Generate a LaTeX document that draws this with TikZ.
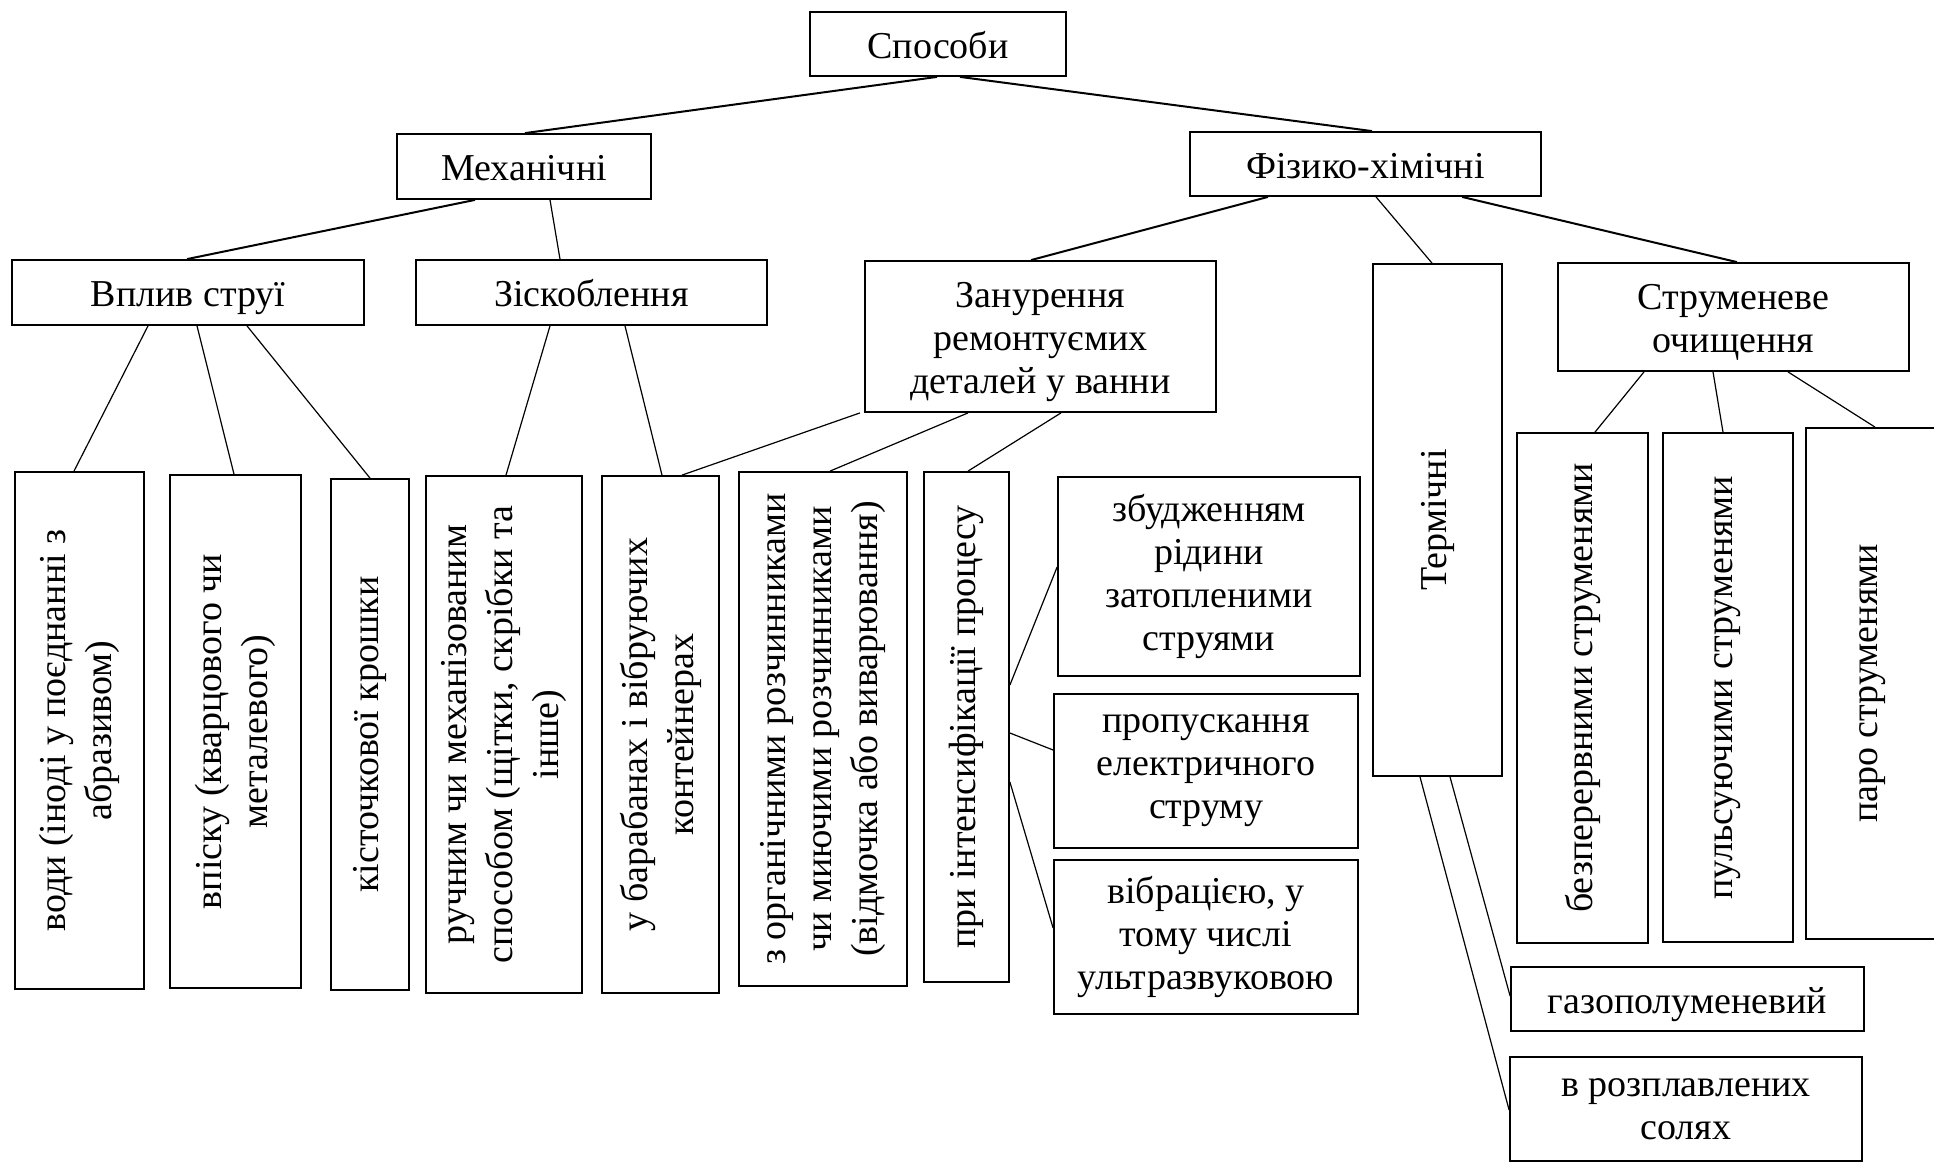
\documentclass[tikz,border=0pt]{standalone}
\usepackage{fontspec}
\setmainfont{Liberation Serif}
\begin{document}
\begin{tikzpicture}[x=0.5pt,y=-0.5pt,
  box/.style={draw, line width=0.9pt, inner sep=0pt, align=center, font=\fontsize{19}{21.5}\selectfont},
  onel/.style={text height=15pt, text depth=1pt},
  htext/.style={align=center, inner sep=0pt, font=\fontsize{19}{21.5}\selectfont},
  vtext/.style={rotate=90, align=center, inner sep=0pt, font=\fontsize{19}{23}\selectfont},
  conn/.style={line width=0.6pt},
  connb/.style={line width=1pt}]
\useasboundingbox (0,0) rectangle (1934,1163);
% level 0-1
\node[box, onel, minimum width=128pt, minimum height=32pt] (sposoby) at (938,44) {Способи};
\node[box, onel, minimum width=127pt, minimum height=32.5pt] (mech) at (524,166.5) {Механічні};
\node[box, onel, minimum width=175.5pt, minimum height=32pt] (fiz) at (1365.5,164) {Фізико-хімічні};
% level 2
\node[box, onel, minimum width=176pt, minimum height=32.5pt] (vplyv) at (188,292.5) {Вплив струї};
\node[box, onel, minimum width=175.5pt, minimum height=32.5pt] (zisk) at (591.5,292.5) {Зіскоблення};
\node[box, minimum width=175.5pt, minimum height=75.5pt] (zanur) at (1040.5,336.5) {};
\node[htext] (zanur-t) at ([yshift=-3pt]zanur.center) {Занурення\\ремонтуємих\\деталей у ванни};
\node[box, minimum width=64.5pt, minimum height=256pt] (term) at (1437.5,520) {};
\node[vtext] (term-t) at (term.center) {Термічні};
\node[box, minimum width=175.5pt, minimum height=54pt] (strum) at (1733.5,317) {};
\node[htext] (strum-t) at ([yshift=-2.5pt]strum.center) {Струменеве\\очищення};
% level 3 vertical boxes
\node[box, minimum width=64.5pt, minimum height=258.5pt] (vody) at (79.5,730.5) {};
\node[vtext] (vody-t) at (vody.center) {води (іноді у поєднанні з\\абразивом)};
\node[box, minimum width=65.5pt, minimum height=256.5pt] (vpisk) at (235.5,731.5) {};
\node[vtext] (vpisk-t) at (vpisk.center) {впіску (кварцового чи\\металевого)};
\node[box, minimum width=39pt, minimum height=255.5pt] (kist) at (370,734.5) {};
\node[vtext] (kist-t) at (kist.center) {кісточкової крошки};
\node[box, minimum width=78pt, minimum height=258.5pt] (ruch) at (504,734.5) {};
\node[vtext] (ruch-t) at (ruch.center) {ручним чи механізованим\\способом (щітки, скрібки та\\інше)};
\node[box, minimum width=58.5pt, minimum height=258.5pt] (barab) at (660.5,734.5) {};
\node[vtext] (barab-t) at (barab.center) {у барабанах і вібруючих\\контейнерах};
\node[box, minimum width=84pt, minimum height=257pt] (organ) at (823,729) {};
\node[vtext] (organ-t) at (organ.center) {з органічними розчинниками\\чи миючими розчинниками\\(відмочка або виварювання)};
\node[box, minimum width=42.5pt, minimum height=255pt] (pryint) at (966.5,727) {};
\node[vtext] (pryint-t) at (pryint.center) {при інтенсифікації процесу};
\node[box, minimum width=151pt, minimum height=99.5pt] (zbudzh) at (1209,576.5) {збудженням\\рідини\\затопленими\\струями};
\node[box, minimum width=152pt, minimum height=77pt] (propusk) at (1206,771) {пропускання\\електричного\\струму};
\node[box, minimum width=152pt, minimum height=77pt] (vibr) at (1206,937) {вібрацією, у\\тому числі\\ультразвуковою};
\node[box, minimum width=65.5pt, minimum height=255pt] (bezper) at (1582.5,688) {};
\node[vtext] (bezper-t) at (bezper.center) {безперервними струменями};
\node[box, minimum width=65pt, minimum height=254.5pt] (puls) at (1728,687.5) {};
\node[vtext] (puls-t) at (puls.center) {пульсуючими струменями};
\node[box, minimum width=67pt, minimum height=255.5pt] (paro) at (1873,683.5) {};
\node[vtext] (paro-t) at (paro.center) {паро струменями};
\node[box, onel, minimum width=176.5pt, minimum height=32pt] (gazo) at (1687.5,999) {газополуменевий};
\node[box, minimum width=176pt, minimum height=52pt] (rozpl) at (1686,1109) {в розплавлених\\солях};
% connectors
\draw[connb] (sposoby.south -| 937,0) -- (mech.north -| 525,0);
\draw[connb] (sposoby.south -| 960,0) -- (fiz.north -| 1372,0);
\draw[connb] (mech.south -| 475,0) -- (vplyv.north -| 187,0);
\draw[conn] (mech.south -| 550,0) -- (zisk.north -| 560,0);
\draw[connb] (fiz.south -| 1268,0) -- (zanur.north -| 1031,0);
\draw[conn] (fiz.south -| 1376,0) -- (term.north -| 1432,0);
\draw[connb] (fiz.south -| 1462,0) -- (strum.north -| 1737,0);
\draw[conn] (vplyv.south -| 148,0) -- (vody.north -| 74,0);
\draw[conn] (vplyv.south -| 197,0) -- (vpisk.north -| 234,0);
\draw[conn] (vplyv.south -| 247,0) -- (kist.north -| 370,0);
\draw[conn] (zisk.south -| 550,0) -- (ruch.north -| 506,0);
\draw[conn] (zisk.south -| 625,0) -- (barab.north -| 662,0);
\draw[conn] (zanur.south -| 860,0) -- (barab.north -| 682,0);
\draw[conn] (zanur.south -| 968,0) -- (organ.north -| 830,0);
\draw[conn] (zanur.south -| 1061,0) -- (pryint.north -| 968,0);
\draw[conn] (pryint.east |- 0,685) -- (zbudzh.west |- 0,567);
\draw[conn] (pryint.east |- 0,733) -- (propusk.west |- 0,750);
\draw[conn] (pryint.east |- 0,782) -- (vibr.west |- 0,928);
\draw[conn] (term.south -| 1450,0) -- (gazo.west |- 0,996);
\draw[conn] (term.south -| 1420,0) -- (rozpl.west |- 0,1110);
\draw[conn] (strum.south -| 1644,0) -- (bezper.north -| 1595,0);
\draw[conn] (strum.south -| 1713,0) -- (puls.north -| 1723,0);
\draw[conn] (strum.south -| 1788,0) -- (paro.north -| 1875,0);
\end{tikzpicture}
\end{document}
